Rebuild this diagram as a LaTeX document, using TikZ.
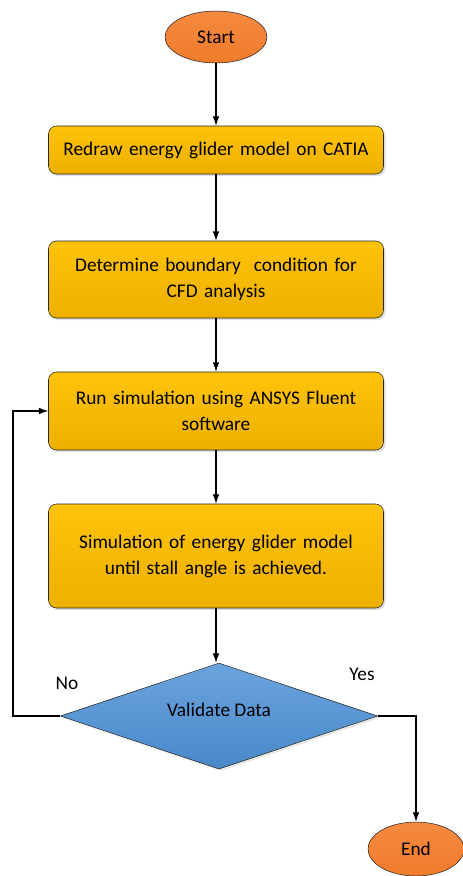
\documentclass[tikz,border=0pt]{standalone}
\usepackage{fontspec}
\setmainfont{Carlito}
\usepackage{xcolor}
\definecolor{TermOrange}{HTML}{F07B2C}
\definecolor{TermOrangeTop}{HTML}{F58A40}
\definecolor{StepGold}{HTML}{FFC30A}
\definecolor{StepGoldDark}{HTML}{EDB000}
\definecolor{CheckBlue}{HTML}{6AA4DE}
\definecolor{CheckBlueDark}{HTML}{4A88C9}
\definecolor{EdgeDark}{HTML}{262626}
\usepackage{tikz}
\usetikzlibrary{arrows.meta,shapes.geometric,shadows}
\tikzset{
  flowterm/.style={
    ellipse,
    draw=EdgeDark,
    top color=TermOrangeTop,
    bottom color=TermOrange,
    minimum width=76.5pt,
    minimum height=39pt,
    inner sep=0pt,
    font=\fontsize{14.5}{17}\selectfont
  },
  flowbox/.style={
    draw=EdgeDark,
    top color=StepGold,
    bottom color=StepGoldDark,
    rounded corners=6pt,
    drop shadow={opacity=0.25,shadow xshift=1.5pt,shadow yshift=-1.5pt},
    minimum width=251.25pt,
    text width=245pt,
    align=center,
    inner sep=3pt,
    font=\fontsize{14.5}{19.5}\selectfont
  },
  flowcheck/.style={
    diamond,
    aspect=3,
    draw=EdgeDark,
    top color=CheckBlue,
    bottom color=CheckBlueDark,
    drop shadow={opacity=0.2,shadow xshift=1.5pt,shadow yshift=-1.5pt},
    minimum width=238pt,
    minimum height=79.5pt,
    inner sep=0pt,
    font=\fontsize{14.5}{17}\selectfont
  },
  flowlabel/.style={
    font=\fontsize{14.5}{17}\selectfont,
    inner sep=0pt
  },
  flowline/.style={
    draw=black,
    -{Latex[length=7pt,width=5pt]},
    line width=0.8pt
  }
}
\begin{document}
\begin{tikzpicture}[x=0.75pt,y=-0.75pt]
  \useasboundingbox (0,0) rectangle (462,876);
  \node[flowterm] (start) at (216,37) {Start};
  \node[flowbox,minimum height=36pt] (redraw) at (216,150) {Redraw energy glider model on CATIA};
  \node[flowbox,minimum height=57.75pt] (boundary) at (216,279.5) {Determine boundary\ \ condition for\\CFD analysis};
  \node[flowbox,minimum height=58.5pt] (runsim) at (216,411) {Run simulation using ANSYS Fluent\\software};
  \node[flowbox,minimum height=78pt] (stall) at (216,556) {Simulation of energy glider model\\until stall angle is achieved.};
  \node[flowcheck] (validate) at (219,716) {\raisebox{9pt}{Validate Data}};
  \node[flowterm,minimum width=72pt,minimum height=40.5pt] (finish) at (416,849) {End};
  \node[flowlabel] (nolabel) at (67,683) {No};
  \node[flowlabel] (yeslabel) at (362,674) {Yes};
  \coordinate (noturn) at (13,716);
  \foreach \from/\to in {start/redraw,redraw/boundary,boundary/runsim,runsim/stall}{\draw[flowline] (\from) -- (\to);}
  \draw[flowline] (stall.south) -- (stall.south |- validate.north);
  \draw[flowline] (validate.west) -- (noturn) |- (runsim.west);
  \draw[flowline] (validate.east) -| (finish.north);
\end{tikzpicture}
\end{document}
